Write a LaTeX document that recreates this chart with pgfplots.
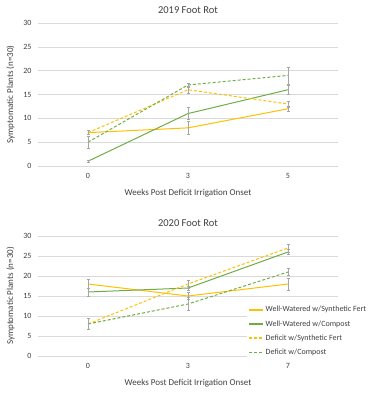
\documentclass[border=0pt]{standalone}
\usepackage{pgfplots}
\pgfplotsset{compat=1.18}
\usepackage{fontspec}
\setmainfont{Carlito}
\definecolor{ygold}{HTML}{FFC000}
\definecolor{ggreen}{HTML}{70AD47}
\definecolor{errgray}{HTML}{A5A5A5}
\definecolor{gridgray}{HTML}{D9D9D9}
\definecolor{txt}{HTML}{404040}

\pgfplotsset{
 footrot/.style={
  scale only axis, width=300pt,
  xmin=-0.5,xmax=2.5, ymin=0,ymax=30, ytick={0,5,...,30},
  xtick={0,1,2},
  axis line style={draw=none}, major tick length=0pt,
  ymajorgrids, grid style={gridgray, line width=0.6pt},
  tick label style={font=\fontsize{8}{9}\selectfont, text=txt},
  yticklabel style={xshift=-3pt},
  xticklabel style={yshift=-4pt},
  label style={font=\fontsize{9}{10}\selectfont, text=txt},
  xlabel style={yshift=-4pt},
  ylabel style={yshift=2pt},
  title style={font=\fontsize{10.5}{12}\selectfont, text=txt},
  /pgf/number format/assume math mode=true,
  xlabel={Weeks Post Deficit Irrigation Onset},
  ylabel={Symptomatic Plants (n=30)},
  clip=false,
 },
 ser/.style={line width=1pt, mark=none, error bars/y dir=both, error bars/y explicit,
   error bars/error bar style={errgray, line width=0.6pt, solid},
   error bars/error mark options={rotate=90, mark size=1.5pt, errgray, line width=0.6pt, solid}},
 dsh/.style={dash pattern=on 3pt off 2pt},
}

\begin{document}
\begin{tikzpicture}
\useasboundingbox (0,0) rectangle (387pt,393pt);
\begin{axis}[footrot, at={(38pt,227pt)}, anchor=south west, height=143pt,
  title={2019 Foot Rot}, xticklabels={0,3,5}]
\addplot[ser, ygold] coordinates {(0,7) +- (0,0.4) (1,8) +- (0,1.4) (2,12) +- (0,0.6)};
\addplot[ser, ggreen] coordinates {(0,1) +- (0,0.3) (1,11) +- (0,1.3) (2,16) +- (0,1.0)};
\addplot[ser, ygold, dsh] coordinates {(0,7) +- (0,0.4) (1,16) +- (0,0.8) (2,13) +- (0,0.6)};
\addplot[ser, ggreen, dsh] coordinates {(0,5) +- (0,1.2) (1,17) +- (0,0.4) (2,19) +- (0,1.8)};
\end{axis}
\begin{axis}[footrot, at={(38pt,37pt)}, anchor=south west, height=120pt,
  title={2020 Foot Rot}, xticklabels={0,3,7},
  legend style={at={(axis description cs:0.697,0.44)}, anchor=north west, draw=none, fill=white,
    font=\fontsize{8}{9}\selectfont, row sep=3pt, inner sep=1pt},
  legend cell align=left,
  legend image code/.code={\draw[#1] (0pt,0pt) -- (14pt,0pt);}]
\addlegendimage{draw=ygold, line width=1.4pt, solid}
\addlegendentry{\textcolor{txt}{Well-Watered w/Synthetic Fert}}
\addlegendimage{draw=ggreen, line width=1.4pt, solid}
\addlegendentry{\textcolor{txt}{Well-Watered w/Compost}}
\addlegendimage{draw=ygold, line width=1.1pt, dsh}
\addlegendentry{\textcolor{txt}{Deficit w/Synthetic Fert}}
\addlegendimage{draw=ggreen, line width=1.1pt, dsh}
\addlegendentry{\textcolor{txt}{Deficit w/Compost}}
\addplot[ser, ygold, forget plot] coordinates {(0,18) +- (0,1.2) (1,15) +- (0,0.8) (2,18) +- (0,1.5)};
\addplot[ser, ggreen, forget plot] coordinates {(0,16) +- (0,1.0) (1,17) +- (0,0.5) (2,26) +- (0,0.7)};
\addplot[ser, ygold, dsh, forget plot] coordinates {(0,8) +- (0,1.3) (1,18) +- (0,1.0) (2,27) +- (0,1.0)};
\addplot[ser, ggreen, dsh, forget plot] coordinates {(0,8) +- (0,1.3) (1,13) +- (0,1.7) (2,21) +- (0,0.8)};
\end{axis}
\end{tikzpicture}
\end{document}
